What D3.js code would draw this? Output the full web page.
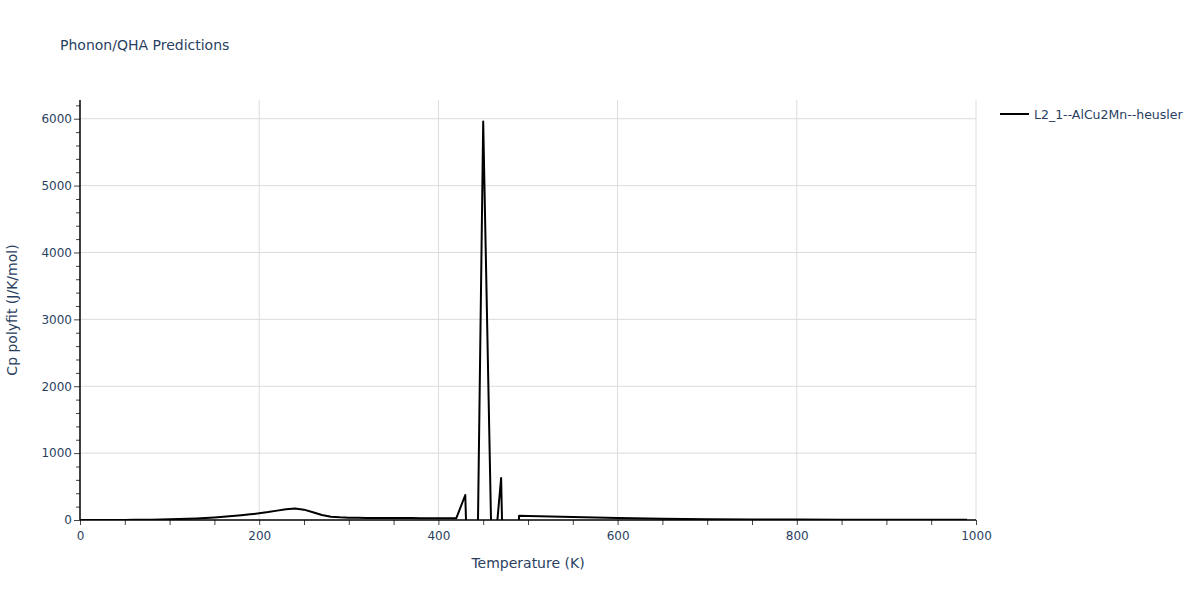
<!DOCTYPE html>
<html>
<head>
<meta charset="utf-8">
<script src="https://cdn.jsdelivr.net/npm/d3@7"></script>
<style>
  body { margin: 0; background: #fff; }
  text { font-family: "DejaVu Sans", verdana, arial, sans-serif; }
</style>
</head>
<body>
<div id="chart"></div>
<script>
// data (10 K steps)
var temps = [0, 10, 20, 30, 40, 50, 60, 70, 80, 90,
  100, 110, 120, 130, 140, 150, 160, 170, 180, 190,
  200, 210, 220, 230, 240, 250, 260, 270, 280, 290,
  300, 310, 320, 330, 340, 350, 360, 370, 380, 390,
  400, 410, 420, 430, 440, 450, 460, 470, 480, 490,
  500, 550, 600, 650, 700, 750, 800, 850, 900, 950, 990];
var cpValues = [0, 0, 0, 0.1, 0.3, 1, 2, 3, 5, 7,
  10, 14, 18, 23, 30, 38, 48, 58, 70, 85,
  100, 118, 140, 160, 172, 155, 115, 75, 50, 40,
  33, 32, 31, 31, 30, 30, 29, 29, 28, 28,
  28, 27, 27, 374, -4300, 5960, -890, 628, -5650, 62,
  60, 45, 30, 18, 12, 9, 7, 5, 4, 3, 2];
var seriesName = "L2_1--AlCu2Mn--heusler";
var xTicks = [0, 200, 400, 600, 800, 1000];
var yTicks = [0, 1000, 2000, 3000, 4000, 5000, 6000];

var margin = { top: 100, right: 224, bottom: 80, left: 80 },
    width = 1200 - margin.left - margin.right,
    height = 600 - margin.top - margin.bottom;

var textColor = "#2a3f5f";

var svg = d3.select("#chart")
  .append("svg")
    .attr("width", 1200)
    .attr("height", 600);

var g = svg.append("g")
    .attr("transform", "translate(" + margin.left + "," + margin.top + ")");

var x = d3.scaleLinear().domain([0, 1000]).range([0, width]);
var y = d3.scaleLinear().domain([0, 6280]).range([height, 0]);

// grid
g.selectAll(".xgrid")
  .data(xTicks.slice(1))
  .enter().append("line")
    .attr("x1", function(d) { return x(d); })
    .attr("x2", function(d) { return x(d); })
    .attr("y1", 0)
    .attr("y2", height)
    .attr("stroke", "#dcdcdc")
    .attr("stroke-width", 1);

g.selectAll(".ygrid")
  .data(yTicks.slice(1))
  .enter().append("line")
    .attr("x1", 0)
    .attr("x2", width)
    .attr("y1", function(d) { return y(d); })
    .attr("y2", function(d) { return y(d); })
    .attr("stroke", "#dcdcdc")
    .attr("stroke-width", 1);

// clip
svg.append("defs").append("clipPath")
    .attr("id", "clip")
  .append("rect")
    .attr("width", width)
    .attr("height", height);

var line = d3.line()
  .x(function(d, i) { return x(temps[i]); })
  .y(function(d) { return y(d); });

g.append("path")
  .datum(cpValues)
  .attr("clip-path", "url(#clip)")
  .attr("fill", "none")
  .attr("stroke", "#000")
  .attr("stroke-width", 2)
  .attr("stroke-linejoin", "round")
  .attr("d", line);

// minor ticks
var xMinor = d3.range(0, 1001, 50);
var yMinor = d3.range(0, 6201, 200);

var xAxis = g.append("g")
  .attr("transform", "translate(0," + height + ")");
xAxis.call(d3.axisBottom(x).tickValues(xMinor).tickSize(5).tickFormat(""));
xAxis.call(function(a) { a.select(".domain").remove(); });
xAxis.selectAll(".tick line").attr("stroke", "#444");

var xLabels = g.append("g")
  .attr("transform", "translate(0," + height + ")")
  .call(d3.axisBottom(x).tickValues(xTicks).tickSize(0).tickPadding(11).tickFormat(d3.format("d")));
xLabels.select(".domain").remove();
xLabels.selectAll("text").attr("fill", textColor).style("font-size", "12px");

var yAxis = g.append("g");
yAxis.call(d3.axisLeft(y).tickValues(yMinor).tickSize(4).tickFormat(""));
yAxis.select(".domain").remove();
yAxis.selectAll(".tick line").attr("stroke", "#444");
yAxis.selectAll(".tick")
  .filter(function(d) { return d % 1000 === 0; })
  .select("line").attr("x2", -6);

var yLabels = g.append("g")
  .call(d3.axisLeft(y).tickValues(yTicks).tickSize(0).tickPadding(8).tickFormat(d3.format("d")));
yLabels.select(".domain").remove();
yLabels.selectAll("text").attr("fill", textColor).style("font-size", "12px");

// axis lines
g.append("line")
  .attr("x1", 0).attr("x2", width)
  .attr("y1", height).attr("y2", height)
  .attr("stroke", "#000").attr("stroke-width", 1.5);
g.append("line")
  .attr("x1", 0).attr("x2", 0)
  .attr("y1", 0).attr("y2", height)
  .attr("stroke", "#000").attr("stroke-width", 1.5);

// titles
svg.append("text")
  .attr("x", 60)
  .attr("y", 50)
  .attr("fill", textColor)
  .style("font-size", "14px")
  .text("Phonon/QHA Predictions");

svg.append("text")
  .attr("x", margin.left + width / 2)
  .attr("y", 568)
  .attr("text-anchor", "middle")
  .attr("fill", textColor)
  .style("font-size", "14px")
  .text("Temperature (K)");

svg.append("text")
  .attr("transform", "translate(17," + (margin.top + height / 2) + ") rotate(-90)")
  .attr("text-anchor", "middle")
  .attr("fill", textColor)
  .style("font-size", "14px")
  .text("Cp polyfit (J/K/mol)");

// legend
var legend = svg.append("g")
  .attr("transform", "translate(1000,114)");
legend.append("line")
  .attr("x1", 0).attr("x2", 29)
  .attr("y1", 0).attr("y2", 0)
  .attr("stroke", "#000").attr("stroke-width", 2);
legend.append("text")
  .attr("x", 34)
  .attr("y", 4.5)
  .attr("fill", textColor)
  .style("font-size", "12.5px")
  .text(seriesName);
</script>
</body>
</html>
